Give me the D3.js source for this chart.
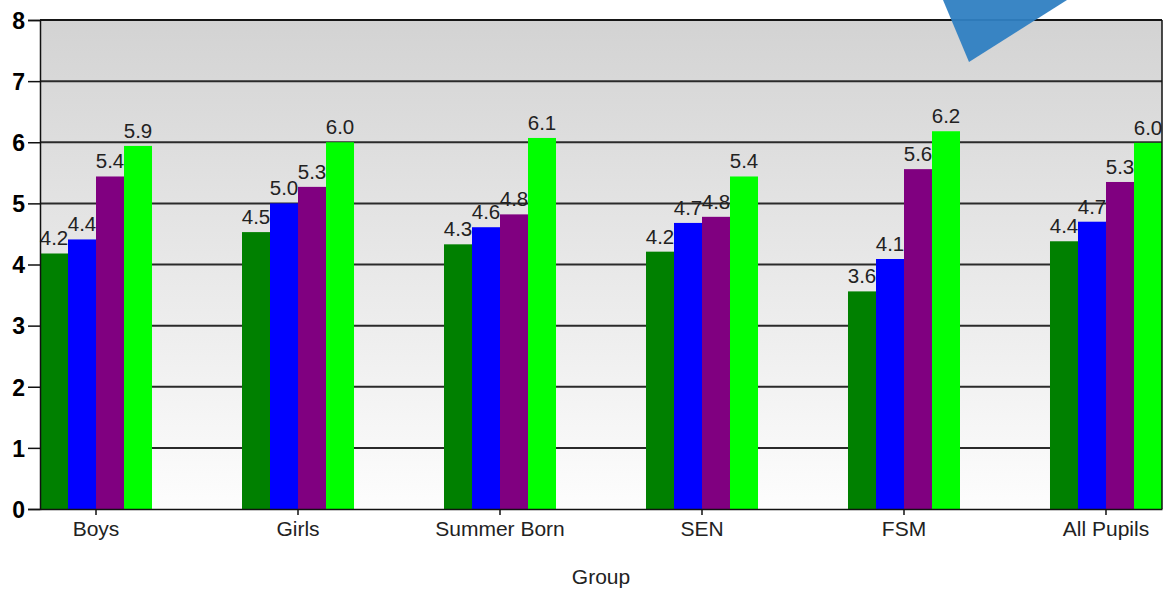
<!DOCTYPE html>
<html><head><meta charset="utf-8">
<script src="https://cdn.jsdelivr.net/npm/d3@7"></script>
<style>body{margin:0;background:#fff;}svg{display:block;}</style>
</head><body>
<svg id="chart" width="1164" height="590"></svg>
<script>
const categories = ["Boys","Girls","Summer Born","SEN","FSM","All Pupils"];
const series1 = [4.18, 4.53, 4.33, 4.21, 3.56, 4.38];
const series2 = [4.41, 5.00, 4.61, 4.68, 4.09, 4.70];
const series3 = [5.44, 5.27, 4.82, 4.78, 5.56, 5.35];
const series4 = [5.94, 6.00, 6.07, 5.44, 6.18, 5.99];
const seriesColors = ["#008000","#0000ff","#800080","#00ff00"];
const yTicks = [0,1,2,3,4,5,6,7,8];
const xTitle = "Group";

(function(){
const seriesList = [series1, series2, series3, series4];
const svg = d3.select("#chart");
const pL = 40, pR = 1162, pT = 20, pB = 509;
const FONT = "Liberation Sans, Arial, sans-serif";

const x = d3.scaleBand().domain(categories).range([pL, pR]).paddingInner(0.4455).paddingOuter(0);
const xs = d3.scaleBand().domain(d3.range(seriesList.length)).range([0, x.bandwidth()]);
const y = d3.scaleLinear().domain([0, 8]).range([pB, pT]);

const defs = svg.append("defs");
const grad = defs.append("linearGradient").attr("id","bg").attr("x1",0).attr("y1",0).attr("x2",0).attr("y2",1);
grad.append("stop").attr("offset","0%").attr("stop-color","#d3d3d3");
grad.append("stop").attr("offset","100%").attr("stop-color","#fdfdfd");

svg.append("rect").attr("x", pL).attr("y", pT).attr("width", pR - pL).attr("height", pB - pT).attr("fill","url(#bg)");

// gridlines
svg.append("g").selectAll("line").data(yTicks.filter(d => d > 0)).join("line")
  .attr("x1", pL).attr("x2", pR).attr("y1", d => y(d)).attr("y2", d => y(d))
  .attr("stroke","#2a2a2a").attr("stroke-width",2);

// bars
const groups = svg.append("g").selectAll("g").data(categories).join("g")
  .attr("transform", c => `translate(${x(c)},0)`);
seriesList.forEach((s, si) => {
  groups.append("rect")
    .attr("x", xs(si)).attr("width", xs.bandwidth())
    .attr("y", (c, i) => y(s[i])).attr("height", (c, i) => y(0) - y(s[i]))
    .attr("fill", seriesColors[si]);
});
// labels
seriesList.forEach((s, si) => {
  groups.append("text")
    .attr("x", xs(si) + xs.bandwidth()/2)
    .attr("y", (c, i) => y(s[i]) - 8)
    .attr("text-anchor","middle")
    .attr("font-family", FONT)
    .attr("font-size", 20.5).attr("fill","#222")
    .text((c, i) => s[i].toFixed(1));
});

// border top/right
svg.append("line").attr("x1", pL).attr("x2", pR).attr("y1", pT).attr("y2", pT).attr("stroke","#111").attr("stroke-width",1.5);
svg.append("line").attr("x1", pR).attr("x2", pR).attr("y1", pT).attr("y2", pB).attr("stroke","#111").attr("stroke-width",1.5);

// y axis
const yAxis = svg.append("g").attr("transform", `translate(${pL},0)`)
  .call(d3.axisLeft(y).tickValues(yTicks).tickSize(12).tickPadding(3).tickFormat(d3.format("d")));
yAxis.select(".domain").attr("stroke","#111").attr("stroke-width",1.5);
yAxis.selectAll(".tick line").attr("stroke","#111").attr("stroke-width",1.5);
yAxis.selectAll("text").attr("font-family", FONT).attr("font-size",23).attr("font-weight","bold").attr("fill","#000").attr("dy","0.36em");

// x axis
const xAxis = svg.append("g").attr("transform", `translate(0,${pB})`)
  .call(d3.axisBottom(x).tickSize(6).tickPadding(6).tickSizeOuter(0));
xAxis.select(".domain").attr("stroke","#111").attr("stroke-width",1.5);
xAxis.selectAll(".tick line").attr("stroke","#111").attr("stroke-width",1.5);
xAxis.selectAll("text").attr("font-family", FONT).attr("font-size",21).attr("fill","#222");

svg.append("text").attr("x", (pL + pR)/2).attr("y", 584).attr("text-anchor","middle")
  .attr("font-family", FONT).attr("font-size",21).attr("fill","#222").text(xTitle);

// decorative triangle
svg.append("polygon").attr("points","943,0 969,62 1067,0").attr("fill","#2f7fc2").attr("opacity",0.95);
})();
</script>
</body></html>
